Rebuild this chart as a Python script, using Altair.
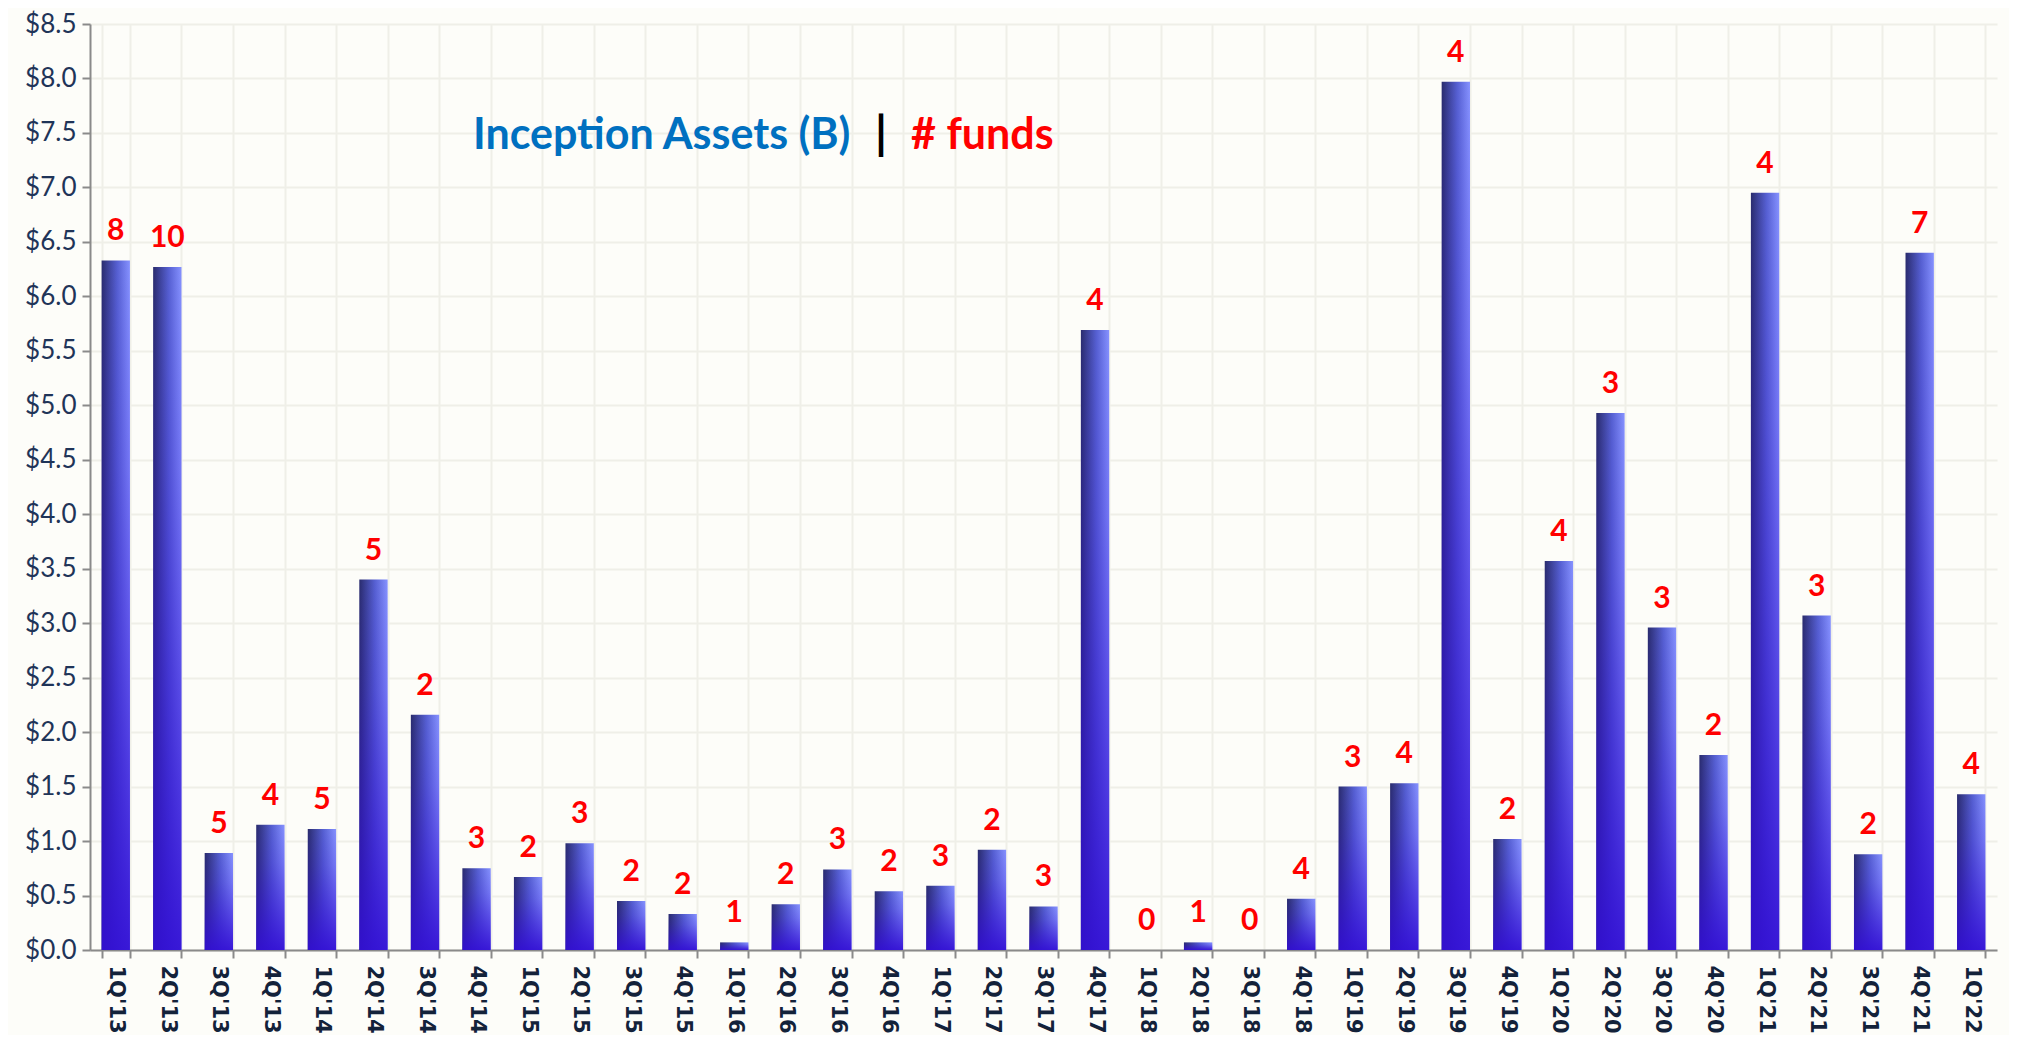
import altair as alt
import pandas as pd

quarters = ["1Q'13", "2Q'13", "3Q'13", "4Q'13", "1Q'14", "2Q'14", "3Q'14", "4Q'14",
            "1Q'15", "2Q'15", "3Q'15", "4Q'15", "1Q'16", "2Q'16", "3Q'16", "4Q'16",
            "1Q'17", "2Q'17", "3Q'17", "4Q'17", "1Q'18", "2Q'18", "3Q'18", "4Q'18",
            "1Q'19", "2Q'19", "3Q'19", "4Q'19", "1Q'20", "2Q'20", "3Q'20", "4Q'20",
            "1Q'21", "2Q'21", "3Q'21", "4Q'21", "1Q'22"]
assets = [6.33, 6.27, 0.89, 1.15, 1.11, 3.40, 2.16, 0.75,
          0.67, 0.98, 0.45, 0.33, 0.07, 0.42, 0.74, 0.54,
          0.59, 0.92, 0.40, 5.69, 0.0, 0.07, 0.0, 0.47,
          1.50, 1.53, 7.97, 1.02, 3.57, 4.93, 2.96, 1.79,
          6.95, 3.07, 0.88, 6.40, 1.43]
funds = [8, 10, 5, 4, 5, 5, 2, 3,
         2, 3, 2, 2, 1, 2, 3, 2,
         3, 2, 3, 4, 0, 1, 0, 4,
         3, 4, 4, 2, 4, 3, 3, 2,
         4, 3, 2, 7, 4]
y_ticks = [i * 0.5 for i in range(18)]

title_parts = ["Inception Assets (B)", "|", "# funds"]
title_colors = ["#0070c0", "#000000", "#ff0000"]

df = pd.DataFrame({"quarter": quarters, "assets": assets, "funds": funds})

x_enc = alt.X(
    "quarter:N", sort=quarters, title=None,
    scale=alt.Scale(paddingInner=0.45, paddingOuter=0.225),
    axis=alt.Axis(
        labelAngle=90, labelFont="DejaVu Sans", labelFontWeight="bold",
        labelFontSize=21, labelColor="#13223a", labelPadding=7,
        tickBand="extent", tickSize=8, tickWidth=2, tickColor="#8a8a8a",
        domainColor="#8a8a8a", domainWidth=2,
        grid=True, gridColor="#efefe8", gridWidth=2,
    ),
)
y_enc = alt.Y(
    "assets:Q", title=None,
    scale=alt.Scale(domain=[0, 8.5], nice=False),
    axis=alt.Axis(
        values=y_ticks, format="$.1f", labelFont="Lato", labelFontSize=26,
        labelColor="#1f3458", labelPadding=6,
        tickSize=8, tickWidth=2, tickColor="#8a8a8a",
        domainColor="#8a8a8a", domainWidth=2,
        grid=True, gridColor="#efefe8", gridWidth=2,
    ),
)

hgrad = alt.Gradient(
    gradient="linear", x1=0, x2=1, y1=0, y2=0,
    stops=[alt.GradientStop(color="#2a2c6e", offset=0),
           alt.GradientStop(color="#5660d2", offset=0.55),
           alt.GradientStop(color="#8692ff", offset=1)],
)
vgrad = alt.Gradient(
    gradient="linear", x1=0, x2=0, y1=0, y2=1,
    stops=[alt.GradientStop(color="rgba(50,14,212,0)", offset=0),
           alt.GradientStop(color="rgba(50,14,212,0.2)", offset=0.3),
           alt.GradientStop(color="rgba(50,14,212,0.92)", offset=1)],
)

base = alt.Chart(df)
bars1 = base.mark_bar(color=hgrad).encode(x=x_enc, y=y_enc)
bars2 = base.mark_bar(color=vgrad).encode(x=x_enc, y=y_enc)
labels = base.mark_text(
    baseline="bottom", dy=-14, fontSize=30, fontWeight="bold",
    font="Lato", color="#ff0000",
).encode(x=x_enc, y=y_enc, text="funds:Q")

title_layers = []
title_x = [383, 785, 821]
title_sizes = [43, 46, 43]
for part, col, tx, fs in zip(title_parts, title_colors, title_x, title_sizes):
    t = alt.Chart(pd.DataFrame({"t": [part]})).mark_text(
        align="left", baseline="alphabetic", fontSize=fs, fontWeight="bold",
        font="Lato", color=col,
    ).encode(text="t:N", x=alt.value(tx), y=alt.value(125))
    title_layers.append(t)

chart = alt.layer(bars1, bars2, labels, *title_layers).properties(
    width=1907, height=926,
    padding={"left": 82, "top": 16, "right": 12, "bottom": 85},
    autosize=alt.AutoSizeParams(type="none"),
    background="#fdfdf9",
).configure_view(stroke=None)

chart.save("out.html", embed_options={"renderer": "svg", "actions": False})
